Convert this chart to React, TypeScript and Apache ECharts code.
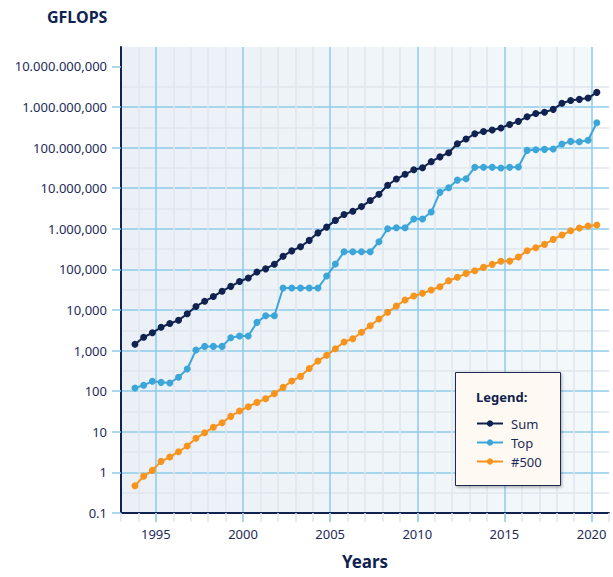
import React, { useEffect, useRef } from "react";
import * as echarts from "echarts";

// List dates (two TOP500 lists per year)
const years = [
  1993.8, 1994.3, 1994.8, 1995.3, 1995.8, 1996.3, 1996.8, 1997.3, 1997.8, 1998.3,
  1998.8, 1999.3, 1999.8, 2000.3, 2000.8, 2001.3, 2001.8, 2002.3, 2002.8, 2003.3,
  2003.8, 2004.3, 2004.8, 2005.3, 2005.8, 2006.3, 2006.8, 2007.3, 2007.8, 2008.3,
  2008.8, 2009.3, 2009.8, 2010.3, 2010.8, 2011.3, 2011.8, 2012.3, 2012.8, 2013.3,
  2013.8, 2014.3, 2014.8, 2015.3, 2015.8, 2016.3, 2016.8, 2017.3, 2017.8, 2018.3,
  2018.8, 2019.3, 2019.8, 2020.3,
];

// GFLOPS
const sumValues = [
  1430, 2130, 2740, 3760, 4630, 5590, 8040, 12200, 16400, 21400,
  29000, 38200, 50200, 61200, 85900, 103000, 134000, 211000, 286000, 361000,
  519000, 794000, 1100000, 1610000, 2240000, 2700000, 3520000, 4950000, 7080000, 11800000,
  16800000, 22000000, 28400000, 31800000, 45000000, 59000000, 74500000, 124000000, 162000000, 219000000,
  248000000, 270000000, 305000000, 369000000, 442000000, 574000000, 689000000, 741000000, 873000000, 1230000000,
  1440000000, 1540000000, 1660000000, 2290000000,
];

const topValues = [
  120, 140, 175, 165, 159, 220, 352, 1030, 1270, 1270,
  1270, 2070, 2280, 2280, 4960, 7220, 7220, 34700, 34700, 34700,
  34700, 34700, 68600, 135000, 272000, 272000, 272000, 272000, 480000, 1000000,
  1060000, 1060000, 1740000, 1740000, 2580000, 7890000, 10200000, 15800000, 17100000, 32600000,
  32600000, 32600000, 31300000, 32600000, 33100000, 85300000, 88300000, 90400000, 91800000, 122000000,
  142000000, 139000000, 151000000, 408000000,
];

const lastValues = [
  0.47, 0.8, 1.12, 1.87, 2.39, 3.23, 4.46, 6.9, 9.5, 12.9,
  16.7, 24, 32.5, 41.5, 53, 65, 87, 124, 178, 232,
  361, 553, 764, 1110, 1630, 1960, 2820, 4100, 5980, 8750,
  12500, 17600, 22100, 25700, 31000, 37400, 52500, 63700, 79800, 92500,
  112000, 133000, 158000, 160000, 201000, 288000, 341000, 413000, 549000, 701000,
  894000, 1040000, 1170000, 1240000,
];

const seriesNames = ["Sum", "Top", "#500"];

// Y tick labels (powers of ten from 0.1 to 10^10), as printed
const yTickLabels = [
  "0.1", "1", "10", "100", "1,000", "10,000", "100,000", "1.000,000",
  "10.000,000", "100.000,000", "1.000.000,000", "10.000.000,000",
];
const yTickExponents = [-1, 0, 1, 2, 3, 4, 5, 6, 7, 8, 9, 10];
const xLabelYears = [1995, 2000, 2005, 2010, 2015, 2020];

const NAVY = "#10224f";
const TEXT = "#1d2b58";
const BLUE = "#8ecbe8";
const GRAY = "#e1e6ed";
const FONT = "Noto Sans";

export default function App() {
  const ref = useRef<HTMLDivElement>(null);

  useEffect(() => {
    if (!ref.current) return;
    const chart = echarts.init(ref.current, null, { renderer: "svg" });

    const toPts = (vals: number[]) => years.map((x, i) => [x, Math.log10(vals[i])]);
    const colors = [NAVY, "#3da6d8", "#f7941d"];
    const valueSets = [sumValues, topValues, lastValues];

    const option: any = {
      animation: false,
      textStyle: { fontFamily: FONT },
      title: {
        text: "GFLOPS",
        left: 47,
        top: 9,
        padding: 0,
        textStyle: { fontFamily: FONT, fontSize: 16, fontWeight: "bold", color: NAVY },
      },
      grid: {
        left: 121,
        top: 47,
        width: 488,
        height: 466,
        containLabel: false,
        outerBoundsMode: "none",
      },
      graphic: [
        {
          type: "rect",
          z: -10,
          shape: { x: 121, y: 47, width: 471, height: 466 },
          style: {
            fill: new echarts.graphic.LinearGradient(0, 0, 1, 0, [
              { offset: 0, color: "#ebf0f6" },
              { offset: 1, color: "#f3f8fb" },
            ]),
          },
        },
        {
          type: "rect",
          z: 3,
          shape: { x: 455.5, y: 372.5, width: 105, height: 113 },
          style: {
            fill: "#fefaf3",
            stroke: "#1b2a55",
            lineWidth: 1,
            shadowBlur: 3,
            shadowOffsetX: 1,
            shadowOffsetY: 1.5,
            shadowColor: "rgba(0,0,0,0.3)",
          },
        },
        {
          type: "text",
          z: 5,
          left: 476,
          top: 390,
          style: {
            text: "Legend:",
            font: `bold 13px "${FONT}"`,
            fill: NAVY,
          },
        },
      ],
      legend: {
        orient: "vertical",
        left: 476,
        top: 417,
        padding: 0,
        itemWidth: 26,
        itemHeight: 8,
        itemGap: 6,
        data: seriesNames,
        textStyle: { fontFamily: FONT, fontSize: 13, color: TEXT, padding: [0, 0, 0, 3] },
      },
      xAxis: [
        {
          type: "value",
          min: 1993,
          max: 2021,
          interval: 1,
          name: "Years",
          nameLocation: "middle",
          nameGap: 40,
          nameTextStyle: { fontFamily: FONT, fontSize: 17, fontWeight: "bold", color: NAVY },
          axisLine: { show: true, onZero: false, lineStyle: { color: NAVY, width: 2 } },
          axisTick: { show: true, length: 9, lineStyle: { color: GRAY, width: 1.5 } },
          axisLabel: {
            margin: 14,
            fontSize: 13,
            color: TEXT,
            fontFamily: FONT,
            formatter: (v: number) => (xLabelYears.indexOf(v) >= 0 ? String(v) : ""),
          },
          splitLine: {
            show: true,
            showMaxLine: false,
            lineStyle: { color: [GRAY, GRAY, BLUE, GRAY, GRAY], width: 1.5 },
          },
          z: 1,
        },
        {
          type: "value",
          min: 1993,
          max: 2021,
          position: "bottom",
          axisLine: { show: false, onZero: false },
          axisLabel: { show: false },
          splitLine: { show: false },
          axisTick: {
            show: true,
            length: 9,
            customValues: xLabelYears,
            lineStyle: { color: BLUE, width: 1.5 },
          },
          z: 1,
        },
      ],
      yAxis: {
        type: "value",
        min: -1,
        max: Math.log10(3e10),
        interval: 1,
        axisLine: { show: true, onZero: false, lineStyle: { color: NAVY, width: 2 } },
        axisTick: {
          show: true,
          length: 9,
          customValues: yTickExponents,
          lineStyle: { color: BLUE, width: 1.5 },
        },
        axisLabel: {
          customValues: yTickExponents,
          margin: 14,
          fontSize: 13,
          color: TEXT,
          fontFamily: FONT,
          formatter: (v: number) => {
            const k = Math.round(v);
            if (Math.abs(v - k) > 1e-6) return "";
            const idx = yTickExponents.indexOf(k);
            return idx >= 0 ? yTickLabels[idx] : "";
          },
        },
        splitLine: { show: true, showMaxLine: false, lineStyle: { color: BLUE, width: 1.5 } },
        minorTick: { show: false, splitNumber: 2 },
        minorSplitLine: { show: true, lineStyle: { color: GRAY, width: 1.5 } },
        z: 1,
      },
      series: seriesNames.map((name, s) => ({
        name,
        type: "line",
        data: toPts(valueSets[s]),
        symbol: "circle",
        symbolSize: 7,
        showAllSymbol: true,
        lineStyle: { color: colors[s], width: 2 },
        itemStyle: { color: colors[s] },
        z: 2,
      })),
    };

    chart.setOption(option);
    return () => chart.dispose();
  }, []);

  return (
    <div
      ref={ref}
      style={{ position: "absolute", left: 0, top: 0, width: 613, height: 577 }}
    />
  );
}
